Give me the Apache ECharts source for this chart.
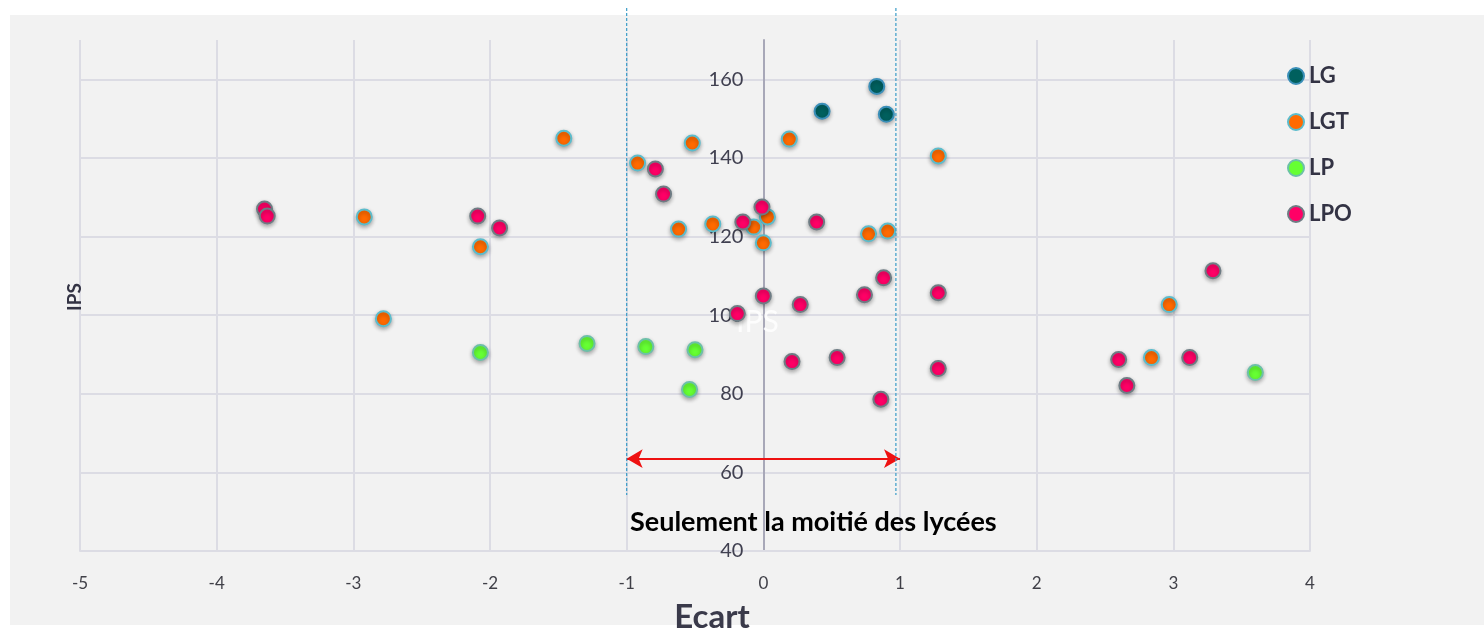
<!DOCTYPE html>
<html>
<head>
<meta charset="utf-8">
<script src="https://cdn.jsdelivr.net/npm/echarts@6/dist/echarts.min.js"></script>
<style>
html,body{margin:0;padding:0;background:#ffffff;}
#chart{width:1484px;height:630px;}
</style>
</head>
<body>
<div id="chart"></div>
<script>
const seriesNames = ['LG', 'LGT', 'LP', 'LPO'];
const lgData = [[0.83,158.2],[0.43,151.9],[0.90,151.1]];
const lgtData = [[-1.46,145.0],[-0.52,143.8],[0.19,144.8],[1.28,140.5],[-0.92,138.7],[-2.92,125.0],[0.03,125.0],[-0.07,122.4],[-0.37,123.2],[-0.62,121.9],[0.00,118.4],[0.77,120.7],[0.91,121.4],[-2.07,117.4],[-2.78,99.1],[2.97,102.7],[2.84,89.2]];
const lpData = [[-2.07,90.5],[-1.29,92.8],[-0.86,92.0],[-0.50,91.2],[-0.54,81.1],[3.60,85.4]];
const lpoData = [[-3.65,127.0],[-3.63,125.2],[-2.09,125.2],[-1.93,122.2],[-0.79,137.2],[-0.73,130.8],[-0.15,123.7],[-0.01,127.5],[0.39,123.7],[0.00,104.9],[-0.19,100.4],[0.27,102.7],[0.74,105.2],[0.88,109.5],[1.28,105.7],[0.21,88.2],[0.54,89.2],[1.28,86.4],[0.86,78.6],[3.29,111.3],[2.60,88.7],[3.12,89.2],[2.66,82.1]];
const xTicks = [-5,-4,-3,-2,-1,0,1,2,3,4];
const yTicks = [40,60,80,100,120,140,160];
const bandX = [-1, 0.97];
const arrowY = 63.5;

const fills = ['#00605e','#ff6a00','#66ff33','#ff0066'];
const borders = ['#3a8fb8','#5bbccc','#6cc0a8','#6e7c84'];
const datasets = [lgData, lgtData, lpData, lpoData];

const chart = echarts.init(document.getElementById('chart'));
const font = 'Lato, "Open Sans", sans-serif';

const series = seriesNames.map((n, i) => ({
  name: n,
  type: 'scatter',
  data: datasets[i],
  symbolSize: 15,
  itemStyle: {
    color: fills[i],
    opacity: 1,
    borderColor: borders[i],
    borderWidth: 2,
    shadowColor: 'rgba(0,0,0,0.3)',
    shadowBlur: 4,
    shadowOffsetY: 2
  },
  z: 5
}));

series.push({
  type: 'scatter',
  data: [],
  markLine: {
    silent: true,
    symbol: ['arrow','arrow'],
    symbolSize: [14, 16],
    label: {show: false},
    lineStyle: {color: '#ee1111', width: 2, type: 'solid'},
    data: [[{coord: [bandX[0], arrowY]}, {coord: [1.0, arrowY]}]]
  }
});

const baseOption = {
  animation: false,
  backgroundColor: 'transparent',
  textStyle: {fontFamily: font},
  grid: {left: 80, right: 174, top: 40, bottom: 79, containLabel: false},
  legend: {
    data: seriesNames,
    orient: 'vertical',
    left: 1282,
    top: 60,
    itemGap: 24,
    itemWidth: 16,
    itemHeight: 16,
    icon: 'circle',
    textStyle: {fontSize: 22, lineHeight: 22, fontWeight: 'bold', color: '#333344', fontFamily: font}
  },
  xAxis: {
    type: 'value',
    min: -5, max: 4, interval: 1,
    axisLine: {show: true, lineStyle: {color: '#dcdce4', width: 2}},
    axisTick: {show: false},
    axisLabel: {fontSize: 17, color: '#404048', margin: 24, fontFamily: font},
    splitLine: {show: true, lineStyle: {color: '#dcdce4', width: 2}}
  },
  yAxis: {
    type: 'value',
    min: 40, max: 170, interval: 20,
    offset: 0,
    axisLine: {show: true, onZero: false, lineStyle: {color: '#a8a8b8', width: 2}},
    axisTick: {show: false},
    axisLabel: {fontSize: 20, color: '#404050', margin: 20, fontFamily: font, showMaxLabel: false,
      formatter: v => yTicks.indexOf(v) >= 0 ? String(v) : ''},
    splitLine: {show: true, showMaxLine: false, lineStyle: {color: '#dcdce4', width: 2}}
  },
  series: series
};
chart.setOption(baseOption);

const p1 = chart.convertToPixel({gridIndex: 0}, [bandX[0], 40]);
const p2 = chart.convertToPixel({gridIndex: 0}, [bandX[1], 40]);
const z0 = chart.convertToPixel({gridIndex: 0}, [0, 100]);
const left0 = chart.convertToPixel({gridIndex: 0}, [xTicks[0], 100]);

chart.setOption({
  yAxis: {offset: -(z0[0] - left0[0])},
  graphic: [
    {type: 'rect', z: -10, silent: true, shape: {x: 10, y: 15, width: 1474, height: 610}, style: {fill: '#f2f2f2'}},
    {type: 'line', z: 10, shape: {x1: p1[0], y1: 8, x2: p1[0], y2: 495}, style: {stroke: '#3a9cc8', lineWidth: 1.2, lineDash: [3, 2]}},
    {type: 'line', z: 10, shape: {x1: p2[0], y1: 8, x2: p2[0], y2: 495}, style: {stroke: '#3a9cc8', lineWidth: 1.2, lineDash: [3, 2]}},
    {type: 'text', z: 10, x: 630, y: 522, style: {text: 'Seulement la moitié des lycées', fontSize: 27, fontWeight: 'bold', fill: '#000000', fontFamily: font, verticalAlign: 'middle'}},
    {type: 'text', z: 10, x: 712, y: 617, style: {text: 'Ecart', fontSize: 33, fontWeight: 'bold', fill: '#3a3a4a', fontFamily: font, align: 'center', verticalAlign: 'middle'}},
    {type: 'text', z: 10, x: 75, y: 297, rotation: Math.PI / 2, style: {text: 'IPS', fontSize: 19, fontWeight: 'bold', fill: '#333344', fontFamily: font, align: 'center', verticalAlign: 'middle'}},
    {type: 'text', z: 3, x: z0[0] - 6, y: 322, style: {text: 'IPS', fontSize: 30, fill: 'rgba(255,255,255,0.85)', fontFamily: font, align: 'center', verticalAlign: 'middle'}}
  ]
});
</script>
</body>
</html>
